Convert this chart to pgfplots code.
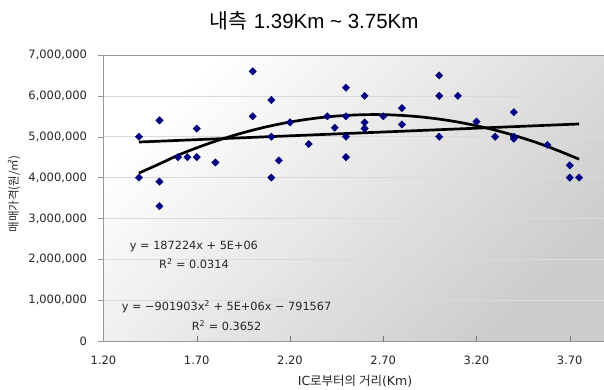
\documentclass[border=0pt]{standalone}
\usepackage{fontspec}
\usepackage{pgfplots}
\pgfplotsset{compat=1.18}
\setmainfont{DejaVu Sans}
\newfontfamily\kr{Noto Sans CJK KR}
\newfontfamily\titlefont{Liberation Sans}
\definecolor{navy}{RGB}{0,0,128}
\definecolor{gridc}{RGB}{218,218,218}
\definecolor{framec}{RGB}{150,150,150}

\pgfplotstableread{
x y
1.39 5000000
1.39 4000000
1.50 5400000
1.50 3900000
1.50 3300000
1.60 4500000
1.65 4500000
1.70 5200000
1.70 4500000
1.80 4370000
2.00 6600000
2.00 5500000
2.10 5900000
2.10 5000000
2.10 4000000
2.14 4420000
2.20 5350000
2.30 4820000
2.40 5500000
2.44 5220000
2.50 6200000
2.50 5500000
2.50 5000000
2.50 4500000
2.60 6000000
2.60 5350000
2.60 5200000
2.70 5500000
2.80 5700000
2.80 5300000
3.00 6500000
3.00 6000000
3.00 5000000
3.10 6000000
3.20 5370000
3.30 5000000
3.40 5600000
3.40 5000000
3.40 4950000
3.58 4800000
3.70 4300000
3.70 4000000
3.75 4000000
}\pricedata

\pgfplotstableread{
x y
1.39 4870000
3.75 5312000
}\lineardata

\pgfplotstableread{
x y
1.39 4110100
1.50 4335000
1.60 4547600
1.70 4728000
1.80 4890300
1.90 5034000
2.00 5160800
2.10 5269000
2.20 5359200
2.30 5431000
2.40 5485500
2.50 5521000
2.60 5539600
2.70 5540000
2.80 5521500
2.90 5485000
3.00 5431300
3.10 5359000
3.20 5268900
3.30 5161000
3.40 5034400
3.50 4890000
3.60 4727800
3.75 4450400
}\quaddata

\begin{document}
\begin{tikzpicture}
\path[use as bounding box] (0,0) rectangle (604bp,390bp);
\begin{axis}[
  at={(103.5bp,49bp)}, anchor=south west,
  scale only axis, width=503bp, height=286bp,
  xmin=1.2, xmax=3.897, ymin=0, ymax=7000000,
  xtick={1.2,1.7,2.2,2.7,3.2,3.7},
  ytick={0,1000000,2000000,3000000,4000000,5000000,6000000,7000000},
  scaled y ticks=false, scaled x ticks=false,
  /pgf/number format/assume math mode=true,
  tick label style={font=\fontsize{11.5bp}{13bp}\selectfont, text=black!85},
  xticklabel style={yshift=-11bp, /pgf/number format/.cd, fixed, fixed zerofill, precision=2},
  yticklabel style={xshift=-13bp, /pgf/number format/.cd, fixed, 1000 sep={,}},
  xtick pos=bottom, ytick pos=left,
  tick align=inside, major tick length=5bp,
  y tick style={xshift=-5bp, draw=framec},
  x tick style={draw=black!55},
  ymajorgrids, major grid style={draw=gridc, line width=0.6bp},
  axis line style={draw=framec, line width=0.8bp},
  axis background/.style={shade, top color=white, bottom color=black!20, shading angle=45},
  clip=false,
]
\addplot[only marks, mark=square*, mark size=2.6bp,
  mark options={rotate=45, fill=navy, draw=navy}] table[x=x,y=y] {\pricedata};
\addplot[black, line width=2.7bp, no marks] table[x=x,y=y] {\lineardata};
\addplot[black, line width=2.7bp, no marks, smooth] table[x=x,y=y] {\quaddata};
\node[font=\fontsize{11.3bp}{13bp}\selectfont, text=black!85] at (axis cs:1.685,2325000) {y = 187224x + 5E+06};
\node[font=\fontsize{11.3bp}{13bp}\selectfont, text=black!85] at (axis cs:1.685,1885000) {R\textsuperscript{2} = 0.0314};
\node[font=\fontsize{11.3bp}{13bp}\selectfont, text=black!85] at (axis cs:1.86,832000) {y = −901903x\textsuperscript{2} + 5E+06x − 791567};
\node[font=\fontsize{11.3bp}{13bp}\selectfont, text=black!85] at (axis cs:1.86,367000) {R\textsuperscript{2} = 0.3652};
\end{axis}
\node[font=\fontsize{20.5bp}{24bp}\selectfont] at (314bp,369bp) {{\kr 내측} \titlefont 1.39Km \textasciitilde{} 3.75Km};
\node[rotate=90, font=\fontsize{11.5bp}{13bp}\selectfont, text=black!85] at (14bp,196bp) {{\kr 매매가격(원/㎡)}};
\node[font=\fontsize{12.5bp}{14bp}\selectfont, text=black!85] at (355bp,9bp) {IC{\kr 로부터의 거리}(Km)};
\end{tikzpicture}
\end{document}
